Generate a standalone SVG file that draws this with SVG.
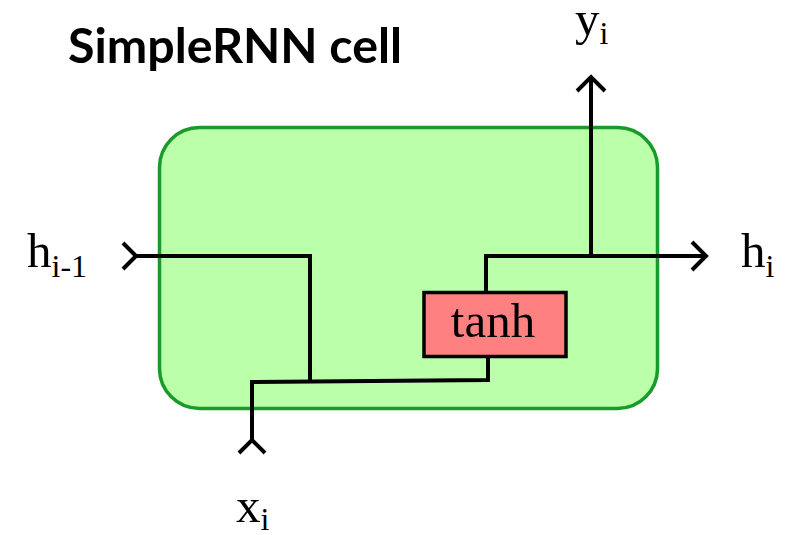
<svg xmlns="http://www.w3.org/2000/svg" width="789" height="535" viewBox="0 0 789 535">
<style>
.wire{fill:none;stroke:#000;stroke-width:4;stroke-linejoin:miter;stroke-linecap:butt}
.lbl{font-family:"Liberation Serif","Times New Roman",serif;font-size:49px;fill:#000}
.sub{font-size:32px}
</style>
<rect width="789" height="535" fill="#fff"/>
<g id="title"><text x="68" y="63" font-family="Lato,'Open Sans',sans-serif" font-weight="bold" font-size="48" textLength="334" lengthAdjust="spacingAndGlyphs">SimpleRNN cell</text></g>
<g id="cell"><rect x="159.5" y="127.5" width="498" height="281" rx="40" ry="40" fill="#bbffaa" stroke="#1a9a2a" stroke-width="3.5"/></g>
<g id="connectors">
<polyline class="wire" points="123,243 136,256 123,269"/>
<polyline class="wire" points="136,256 310,256 310,381"/>
<polyline class="wire" points="252,440 252,382 488,380 488,357"/>
<polyline class="wire" points="239,453 252,440 265,453"/>
<polyline class="wire" points="486,292 486,256 706,256"/>
<polyline class="wire" points="692,242 706,256 692,270"/>
<polyline class="wire" points="591,256 591,77"/>
<polyline class="wire" points="577,91 591,77 605,91"/>
</g>
<g id="tanh"><rect x="424" y="292.5" width="142" height="64" fill="#ff8080" stroke="#000" stroke-width="3.5"/><text class="lbl" x="493" y="337" text-anchor="middle" font-size="51">tanh</text></g>
<g id="h_prev"><text class="lbl" x="27" y="267">h<tspan class="sub" dy="10">i-1</tspan></text></g>
<g id="h_out"><text class="lbl" x="741" y="267">h<tspan class="sub" dy="10">i</tspan></text></g>
<g id="y_out"><text class="lbl" x="575" y="35">y<tspan class="sub" dy="9">i</tspan></text></g>
<g id="x_in"><text class="lbl" x="236" y="522">x<tspan class="sub" dy="8">i</tspan></text></g>
</svg>
